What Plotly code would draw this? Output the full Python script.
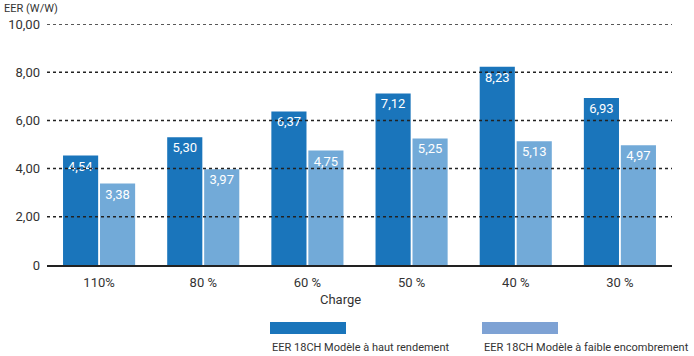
import plotly.graph_objects as go

charges = ["110%", "80 %", "60 %", "50 %", "40 %", "30 %"]
haut_rendement = [4.54, 5.30, 6.37, 7.12, 8.23, 6.93]
faible_encombrement = [3.38, 3.97, 4.75, 5.25, 5.13, 4.97]
y_ticks = [0, 2, 4, 6, 8, 10]
y_tick_labels = ["0", "2,00", "4,00", "6,00", "8,00", "10,00"]
series_names = ["EER 18CH Modèle à haut rendement", "EER 18CH Modèle à faible encombrement"]

FONT = "Roboto, Liberation Sans, sans-serif"
DARK = "#1a75bb"
LIGHT = "#72aad8"
LIGHT_KEY = "#7ea2d4"
TEXT = "#333333"


def fr(v):
    return f"{v:.2f}".replace(".", ",")


fig = go.Figure()
for vals, color, name in [(haut_rendement, DARK, series_names[0]),
                          (faible_encombrement, LIGHT, series_names[1])]:
    fig.add_trace(go.Bar(
        x=charges, y=vals, name=name, marker=dict(color=color, line=dict(width=0)),
        text=[fr(v) for v in vals], textposition="inside", insidetextanchor="end",
        textangle=0, textfont=dict(color="white", size=13, family=FONT),
        showlegend=False,
    ))

# dotted gridlines drawn over the bars
for t in y_ticks[1:]:
    fig.add_shape(type="line", xref="paper", yref="y", x0=0, x1=1, y0=t, y1=t,
                  line=dict(color="#222222", width=1.5, dash="dot"), layer="above")

# custom legend: colour swatch above each label
for x0, color, name in [(0.3568, DARK, series_names[0]), (0.696, LIGHT_KEY, series_names[1])]:
    fig.add_shape(type="rect", xref="paper", yref="paper",
                  x0=x0, x1=x0 + 0.1216, y0=-0.2365, y1=-0.2863,
                  fillcolor=color, line=dict(width=0), layer="above")
    fig.add_annotation(text=name, xref="paper", yref="paper", x=x0, y=-0.344,
                       xanchor="left", yanchor="middle", showarrow=False,
                       font=dict(size=11, color=TEXT, family=FONT))

fig.add_annotation(text="EER (W/W)", xref="paper", yref="paper", x=-0.072, y=1.0996,
                   xanchor="left", yanchor="top", showarrow=False,
                   font=dict(size=11, color=TEXT, family=FONT))
fig.add_annotation(text="Charge", xref="paper", yref="paper", x=0.469, y=-0.145,
                   xanchor="center", yanchor="middle", showarrow=False,
                   font=dict(size=13, color=TEXT, family=FONT))

fig.update_layout(
    width=694, height=356,
    margin=dict(l=47, r=22, t=24, b=91),
    paper_bgcolor="white", plot_bgcolor="white",
    barmode="group", bargap=0.29, bargroupgap=0.05,
    font=dict(family=FONT, size=13, color=TEXT),
    xaxis=dict(showgrid=False, showline=True, linecolor="#222222", linewidth=2,
               ticks="", tickfont=dict(size=13, color=TEXT), automargin=False,
               ticklabelstandoff=4),
    yaxis=dict(range=[0, 10], tickvals=y_ticks, ticktext=y_tick_labels,
               showgrid=False, zeroline=False, showline=False, ticks="",
               tickfont=dict(size=13, color=TEXT), ticklabelstandoff=6,
               automargin=False),
)

fig.write_html("out.html")
